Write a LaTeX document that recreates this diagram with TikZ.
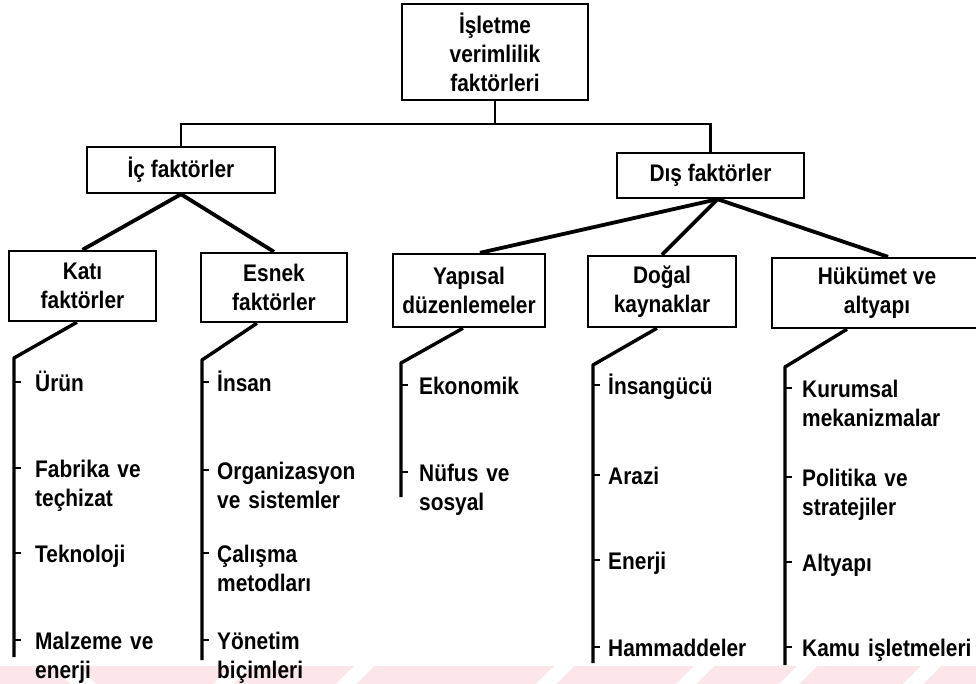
\documentclass[tikz,border=0pt]{standalone}
\usepackage{fontspec}
\setmainfont{Liberation Sans}[FakeStretch=0.87]
\definecolor{wmpink}{RGB}{252,230,234}
\begin{document}
\begin{tikzpicture}[x=1pt,y=-1pt,
  txt/.style={font=\fontsize{24}{29}\selectfont\bfseries},
  box/.style={draw, line width=2.4pt, inner sep=0pt, align=center, txt},
  item/.style={txt, anchor=base west, inner sep=0pt, text width=180pt, align=left},
  thin/.style={line width=2.3pt},
  thick/.style={line width=3.8pt, line join=round},
  spine/.style={line width=3.4pt, line join=round},
  tick/.style={line width=1.4pt}]
\useasboundingbox (0,0) rectangle (976,684);
\clip (0,0) rectangle (976,684);

% faint band along the bottom edge
\fill[wmpink] (0,666) rectangle (976,684);
\foreach \g in {213,336,536,676,779,903}
  \fill[white] (\g,684) -- (\g+20,684) -- (\g+38,666) -- (\g+18,666) -- cycle;
\fill[white] (53,666) -- (78,666) -- (96,684) -- (71,684) -- cycle;

% boxes
\node[box, minimum width=186pt, minimum height=96pt] (top) at (495,52)
  {İşletme\\verimlilik\\faktörleri};
\node[box, minimum width=188pt, minimum height=46pt] (ic) at (181,170) {İç faktörler};
\node[box, minimum width=187pt, minimum height=45pt] (dis) at (710.5,175.5) {Dış faktörler};
\node[box, minimum width=147pt, minimum height=70pt] (kati) at (82.5,286) {Katı\\faktörler};
\node[box, minimum width=146pt, minimum height=69pt] (esnek) at (274,287.5) {Esnek\\faktörler};
\node[box, minimum width=152pt, minimum height=73pt] (yapisal) at (469,290.5) {Yapısal\\düzenlemeler};
\node[box, minimum width=148pt, minimum height=71pt] (dogal) at (662,291.5) {Doğal\\kaynaklar};
\node[box, minimum width=210pt, minimum height=70pt] (hukumet) at (877,293) {Hükümet ve\\altyapı};

% upper connectors
\coordinate (bar) at (495,124);
\draw[thin] (top.south) -- (bar);
\draw[thin] (ic.north) |- (bar) -| (dis.north);

\draw[thick] (kati.north) -- (ic.south) -- (esnek.north);
\draw[thick] ([xshift=11pt]yapisal.north) -- ([xshift=7pt]dis.south);
\draw[thick] (dogal.north) -- ([xshift=7pt]dis.south);
\draw[thick] ([xshift=11pt]hukumet.north) -- ([xshift=7pt]dis.south);

% list spines
\coordinate (k0) at (14,358);   \coordinate (k1) at (14,657);
\coordinate (e0) at (202,360);  \coordinate (e1) at (202,660);
\coordinate (y0) at (401,363);  \coordinate (y1) at (401,497);
\coordinate (d0) at (593,365);  \coordinate (d1) at (593,663);
\coordinate (h0) at (785,367);  \coordinate (h1) at (785,665);

\draw[spine] ([xshift=-5.5pt]kati.south) -- (k0) -- (k1);
\draw[spine] ([xshift=-17pt]esnek.south) -- (e0) -- (e1);
\draw[spine] ([xshift=-6pt]yapisal.south) -- (y0) -- (y1);
\draw[spine] ([xshift=-5pt]dogal.south) -- (d0) -- (d1);
\draw[spine] ([xshift=-30pt]hukumet.south) -- (h0) -- (h1);

% list items with their ticks
\foreach \y/\t [count=\i] in {382/Ürün, 468/{Fabrika ve\\teçhizat}, 553/Teknoloji, 640/{Malzeme ve\\enerji}}{
  \draw[tick] (14,\y) -- (21,\y);
  \node[item] (ka\i) at (35,\y+9) {\t};
}
\foreach \y/\t [count=\i] in {382/İnsan, 470/{Organizasyon\\ve sistemler}, 553/{Çalışma\\metodları}, 640/{Yönetim\\biçimleri}}{
  \draw[tick] (202,\y) -- (209,\y);
  \node[item] (es\i) at (217,\y+9) {\t};
}
\foreach \y/\t [count=\i] in {385/Ekonomik, 472/{Nüfus ve\\sosyal}}{
  \draw[tick] (401,\y) -- (408,\y);
  \node[item] (ya\i) at (419,\y+9) {\t};
}
\foreach \y/\t [count=\i] in {385/İnsangücü, 475/Arazi, 560/Enerji, 647/Hammaddeler}{
  \draw[tick] (593,\y) -- (600,\y);
  \node[item] (do\i) at (608,\y+9) {\t};
}
\foreach \y/\t [count=\i] in {388/{Kurumsal\\mekanizmalar}, 477/{Politika ve\\stratejiler}, 562/Altyapı, 647/Kamu işletmeleri}{
  \draw[tick] (785,\y) -- (792,\y);
  \node[item] (hu\i) at (802,\y+9) {\t};
}
\end{tikzpicture}
\end{document}
